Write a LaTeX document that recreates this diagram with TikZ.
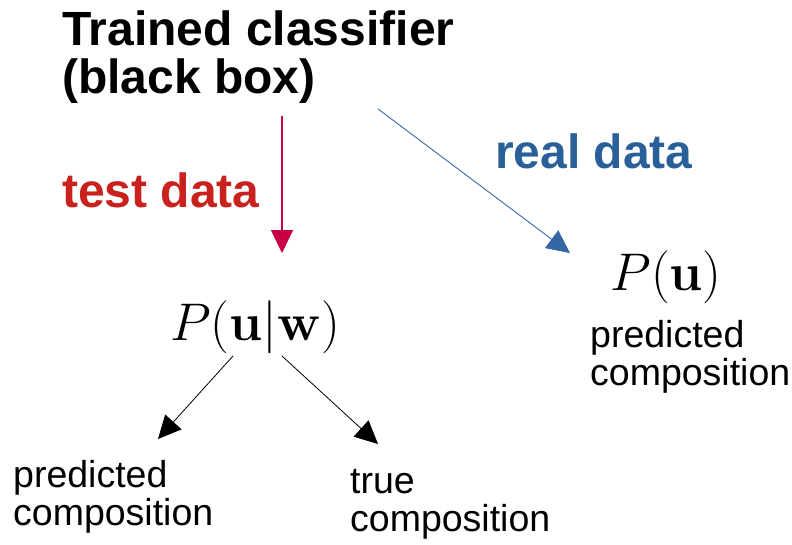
\RequirePackage{fix-cm}
\documentclass[tikz,border=0pt]{standalone}
\usepackage[no-math]{fontspec}
\newfontfamily\arial{Liberation Sans}
\usetikzlibrary{arrows.meta}
\definecolor{tred}{HTML}{C9211E}
\definecolor{tblue}{HTML}{2A6099}
\definecolor{ared}{RGB}{200,0,70}
\definecolor{ablue}{HTML}{3465A4}
\tikzset{
  lbl/.style={inner sep=0pt, anchor=base west, align=left},
  bigbold/.style={font=\arial\bfseries\fontsize{48}{48}\selectfont},
  small/.style={font=\arial\fontsize{37.5}{38}\selectfont},
  mathlbl/.style={inner sep=0pt, anchor=base, font=\fontsize{53}{60}\selectfont},
  arr/.style={line width=1pt, -{Triangle[length=23pt,width=22pt]}},
}
\begin{document}
\begin{tikzpicture}[x=1pt,y=-1pt]
\useasboundingbox (0,0) rectangle (792,544);
\node[lbl,bigbold] (title) at (62,93) {Trained classifier\\(black box)};
\node[lbl,bigbold,text=tred] (test) at (62,207) {test data};
\node[lbl,bigbold,text=tblue] (real) at (495,168) {real data};
\node[mathlbl] (puw) at (255,340) {$P(\mathbf{u}|\mathbf{w})$};
\node[mathlbl] (pu) at (666,290) {$P(\mathbf{u})$};
\node[lbl,small] (rp) at (590,385) {predicted\\composition};
\node[lbl,small] (lp) at (13,525) {predicted\\composition};
\node[lbl,small] (tc) at (350,531) {true\\composition};
\coordinate (rs) at (282,116);
\coordinate (re) at (282,253);
\coordinate (bs) at (378,109);
\coordinate (be) at (570,253);
\coordinate (ls) at (233,356);
\coordinate (le) at (158,439);
\coordinate (ts) at (282,356);
\coordinate (te) at (378,444);
\draw[arr, ared, line width=1.2pt] (rs) -- (re);
\draw[arr, ablue, line width=0.9pt] (bs) -- (be);
\draw[arr, black, line width=0.8pt] (ls) -- (le);
\draw[arr, black, line width=0.8pt] (ts) -- (te);
\end{tikzpicture}
\end{document}
